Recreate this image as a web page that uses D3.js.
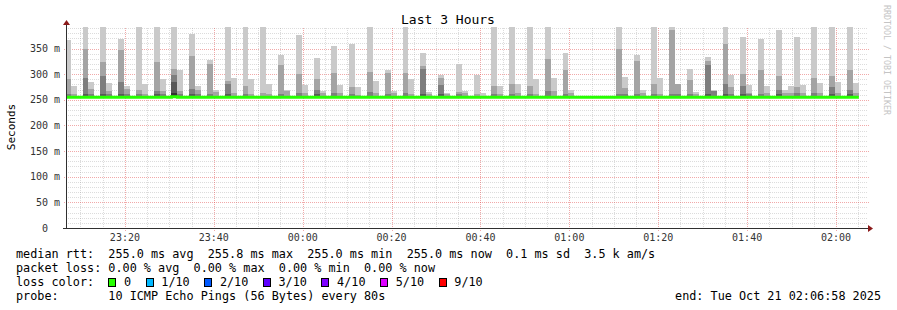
<!DOCTYPE html>
<html>
<head>
<meta charset="utf-8">
<script src="https://cdn.jsdelivr.net/npm/d3@7"></script>
<style>
body { margin: 0; background: #fff; }
svg { display: block; }
text { font-family: "DejaVu Sans Mono", monospace; white-space: pre; }
</style>
</head>
<body>
<div id="chart"></div>
<script>
// time window of the graph, one slot every 80s
var startTime = new Date(2025, 9, 20, 23, 6, 58);
var endTime = new Date(2025, 9, 21, 2, 6, 58);
var firstSlot = new Date(2025, 9, 20, 23, 6, 28);
var stepSec = 80;

// median rtt per slot (ms)
var median = [
  255,255,255,255,255,255,255,255,255,255,
  255,255,255,255,255,255,255,255,255.8,255,
  255,255,255,255,255,255,255,255,255,255,
  255,255,255,255,255,255,255,255,255,255,
  255,255,255,255,255,255,255,255,255,255,
  255,255,255,255,255,255,255,255,255,255,
  255,255,255,255,255,255,255,255,255,255,
  255,255,255,255,255,255,255,255,255,255,
  255,255,255,255,255,255,255,255,255,255,
  255,255,255,255,255,255,255,255,255,255,
  255,255,255,255,255,255,255,255,255,255,
  255,255,255,255,255,255,255,255,255,255,
  255,255,255,255,255,255,255,255,255,255,
  255,255,255,255
];

// sorted pings (10 = highest), upper half only; lower half sits at the median
var ping10 = [
  367,277,255,400,284,255,400,282,255,368,
  277,255,400,281,255,400,290,255,400,308,
  255,378,277,255,327,269,255,400,293,255,
  400,290,255,400,280,255,337,270,255,376,
  278,255,331,268,255,354,279,255,359,275,
  255,400,286,255,309,267,255,400,291,255,
  341,265,255,298,264,255,319,268,255,298,
  264,255,400,277,255,400,280,255,400,290,
  255,400,292,255,342,270,255,255,255,255,
  255,255,255,400,294,255,337,270,255,400,
  292,255,392,281,255,311,265,255,333,270,
  255,400,298,255,372,278,255,369,277,255,
  387,270,277,373,278,255,400,282,255,400,
  285,255,400,283
];
var ping9 = [
  290,261,255,350,271,255,323,268,255,348,
  272,255,270,262,255,323,267,255,311,268,
  255,335,270,255,320,266,255,287,263,255,
  277,262,255,264,262,255,318,267,255,300,
  263,255,290,263,255,303,263,255,275,260,
  255,304,264,255,303,264,255,302,262,255,
  316,262,255,292,262,255,265,263,255,262,
  255,255,277,262,255,280,264,255,277,261,
  255,329,268,255,309,264,255,255,255,255,
  255,255,255,350,273,255,325,264,255,280,
  262,255,386,280,255,288,262,255,325,268,
  255,358,274,255,301,264,255,308,264,255,
  296,263,263,275,263,255,292,263,255,296,
  263,255,308,264
];
var ping8 = [
  262,255,255,292,261,255,296,262,255,284,
  261,255,262,255,255,268,261,255,298,262,
  255,272,262,255,262,255,255,281,255,255,
  262,255,255,255,255,255,262,255,255,263,
  255,255,270,255,255,263,255,255,262,255,
  255,265,255,255,262,255,255,263,255,255,
  310,255,255,279,255,255,262,255,255,255,
  255,255,262,255,255,262,255,255,262,255,
  255,268,255,255,262,255,255,255,255,255,
  255,255,255,262,262,255,262,255,255,262,
  255,255,262,262,255,262,255,255,317,267,
  255,280,262,255,277,262,255,262,255,255,
  269,255,255,263,255,255,263,255,255,275,
  255,255,269,255
];
var ping7 = [
  257,255,255,262,255,255,262,255,255,262,
  255,255,255,255,255,261,255,255,284,255,
  255,262,255,255,255,255,255,262,255,255,
  255,255,255,255,255,255,255,255,255,255,
  255,255,261,255,255,255,255,255,255,255,
  255,255,255,255,255,255,255,255,255,255,
  262,255,255,262,255,255,255,255,255,255,
  255,255,255,255,255,255,255,255,255,255,
  255,255,255,255,255,255,255,255,255,255,
  255,255,255,255,255,255,255,255,255,255,
  255,255,255,255,255,255,255,255,262,255,
  255,262,255,255,262,255,255,255,255,255,
  262,255,255,255,255,255,255,255,255,262,
  255,255,262,255
];
var ping6 = [
  255,255,255,255,255,255,255,255,255,255,
  255,255,255,255,255,255,255,255,264,255,
  255,255,255,255,255,255,255,255,255,255,
  255,255,255,255,255,255,255,255,255,255,
  255,255,255,255,255,255,255,255,255,255,
  255,255,255,255,255,255,255,255,255,255,
  255,255,255,255,255,255,255,255,255,255,
  255,255,255,255,255,255,255,255,255,255,
  255,255,255,255,255,255,255,255,255,255,
  255,255,255,255,255,255,255,255,255,255,
  255,255,255,255,255,255,255,255,255,255,
  255,255,255,255,255,255,255,255,255,255,
  255,255,255,255,255,255,255,255,255,255,
  255,255,255,255
];

var yTicks = [0, 50, 100, 150, 200, 250, 300, 350];
var yTickLabels = ["0  ", "50 m", "100 m", "150 m", "200 m", "250 m", "300 m", "350 m"];
var lossLabels = ["0", "1/10", "2/10", "3/10", "4/10", "5/10", "9/10"];
var lossColors = ["#26ff00", "#00b8ff", "#0059ff", "#5e00ff", "#7e00ff", "#dd00ff", "#ff0000"];
var legendRows = [
  "median rtt:  255.0 ms avg  255.8 ms max  255.0 ms min  255.0 ms now  0.1 ms sd  3.5 k am/s",
  "packet loss: 0.00 % avg  0.00 % max  0.00 % min  0.00 % now",
  "loss color:",
  "probe:       10 ICMP Echo Pings (56 Bytes) every 80s"
];
var endLabel = "end: Tue Oct 21 02:06:58 2025";

// GLOBAL CONFIGS
var w = 897;
var h = 310;
var pLeft = 67, pRight = 867, pTop = 28, pBottom = 228;
var charW = 7.1;
var minorGrid = "rgba(140,140,140,0.3)";
var majorGrid = "rgba(220,40,40,0.4)";
var axisColor = "#303030";
var arrowColor = "#8b1a1a";

var x = d3.scaleTime().domain([startTime, endTime]).range([pLeft, pRight]);
var y = d3.scaleLinear().domain([0, 390]).range([pBottom, pTop]);

function slotX(k) {
  return x(new Date(firstSlot.getTime() + k * stepSec * 1000));
}

var svg = d3.select("#chart")
  .append("svg")
  .attr("width", w)
  .attr("height", h);

svg.append("rect").attr("width", w).attr("height", h).attr("fill", "#fff");

svg.append("clipPath").attr("id", "plot")
  .append("rect")
  .attr("x", pLeft).attr("y", pTop - 1)
  .attr("width", pRight - pLeft).attr("height", pBottom - pTop + 1);

// Grid
var grid = svg.append("g").attr("stroke-dasharray", "1,1").attr("shape-rendering", "crispEdges");
var hMinor = d3.range(0, 391, 10).filter(function(v) { return v % 50 != 0; });
grid.selectAll(".hmin")
  .data(hMinor).enter().append("line")
  .attr("x1", pLeft - 1).attr("x2", pRight + 1)
  .attr("y1", function(v) { return Math.round(y(v)) + 0.5; })
  .attr("y2", function(v) { return Math.round(y(v)) + 0.5; })
  .attr("stroke", minorGrid);
var vMinor = x.ticks(d3.timeMinute.every(5)).filter(function(t) { return t.getMinutes() % 20 != 0; });
grid.selectAll(".vmin")
  .data(vMinor).enter().append("line")
  .attr("x1", function(t) { return Math.round(x(t)) + 0.5; })
  .attr("x2", function(t) { return Math.round(x(t)) + 0.5; })
  .attr("y1", pTop).attr("y2", pBottom + 2)
  .attr("stroke", minorGrid);
grid.selectAll(".hmaj")
  .data(yTicks.slice(1)).enter().append("line")
  .attr("x1", pLeft - 3).attr("x2", pRight + 2)
  .attr("y1", function(v) { return Math.round(y(v)) + 0.5; })
  .attr("y2", function(v) { return Math.round(y(v)) + 0.5; })
  .attr("stroke", majorGrid);
var vMajor = x.ticks(d3.timeMinute.every(20));
grid.selectAll(".vmaj")
  .data(vMajor).enter().append("line")
  .attr("x1", function(t) { return Math.round(x(t)) + 0.5; })
  .attr("x2", function(t) { return Math.round(x(t)) + 0.5; })
  .attr("y1", pTop).attr("y2", pBottom + 3)
  .attr("stroke", majorGrid);

// Draw smoke layers, outer (light) to inner (dark)
var layers = [
  { vals: ping10, color: "#cacaca" },
  { vals: ping9, color: "#a4a4a4" },
  { vals: ping8, color: "#7e7e7e" },
  { vals: ping7, color: "#585858" },
  { vals: ping6, color: "#323232" }
];
var smoke = svg.append("g").attr("clip-path", "url(#plot)");
layers.forEach(function(l) {
  var slots = d3.range(median.length).filter(function(k) {
    return l.vals[k] > median[k];
  });
  smoke.append("g")
    .selectAll("rect")
    .data(slots)
    .enter()
    .append("rect")
    .attr("x", function(k) { return slotX(k); })
    .attr("width", function(k) { return slotX(k + 1) - slotX(k); })
    .attr("y", function(k) { return y(l.vals[k]); })
    .attr("height", function(k) { return y(median[k]) - y(l.vals[k]); })
    .attr("fill", l.color)
    .attr("shape-rendering", "crispEdges");
});

// Median line, loss colour 0
var medPts = median.map(function(v, k) { return [slotX(k), y(v)]; });
medPts.push([slotX(median.length), y(median[median.length - 1])]);
smoke.append("path")
  .attr("d", d3.line().curve(d3.curveStepAfter)(medPts))
  .attr("fill", "none")
  .attr("stroke", lossColors[0])
  .attr("stroke-width", 3);

// Axes
svg.append("line")
  .attr("x1", pLeft - 0.5).attr("x2", pLeft - 0.5)
  .attr("y1", pBottom + 0.5).attr("y2", pTop - 4)
  .attr("stroke", axisColor);
svg.append("line")
  .attr("x1", pLeft - 4).attr("x2", pRight + 2)
  .attr("y1", pBottom + 0.5).attr("y2", pBottom + 0.5)
  .attr("stroke", axisColor);
svg.append("path")
  .attr("d", "M" + (pLeft - 4) + "," + (pTop - 3) + " L" + (pLeft - 0.5) + "," + (pTop - 8) + " L" + (pLeft + 3) + "," + (pTop - 3) + " Z")
  .attr("fill", arrowColor);
svg.append("path")
  .attr("d", "M" + (pRight + 1) + "," + (pBottom - 3) + " L" + (pRight + 6) + "," + (pBottom + 0.5) + " L" + (pRight + 1) + "," + (pBottom + 4) + " Z")
  .attr("fill", arrowColor);

// Tick labels
svg.selectAll(".ylab")
  .data(yTicks).enter().append("text")
  .text(function(d, i) { return yTickLabels[i]; })
  .attr("x", 60)
  .attr("y", function(v) { return y(v) + 3.5; })
  .attr("text-anchor", "end")
  .attr("font-size", 10)
  .attr("fill", "#333");
svg.selectAll(".xlab")
  .data(vMajor).enter().append("text")
  .text(d3.timeFormat("%H:%M"))
  .attr("x", function(t) { return x(t); })
  .attr("y", 241)
  .attr("text-anchor", "middle")
  .attr("font-size", 10)
  .attr("fill", "#333");

// Title, unit, watermark
svg.append("text")
  .text("Last 3 Hours")
  .attr("x", 448).attr("y", 24)
  .attr("text-anchor", "middle")
  .attr("font-size", 13);
svg.append("text")
  .text("Seconds")
  .attr("transform", "translate(15,127) rotate(-90)")
  .attr("text-anchor", "middle")
  .attr("font-size", 11);
svg.append("text")
  .text("RRDTOOL / TOBI OETIKER")
  .attr("transform", "translate(884,60) rotate(90)")
  .attr("text-anchor", "middle")
  .attr("font-size", 8.3)
  .attr("fill", "#c4c4c4");

// Legend
var rowY = [258, 272, 286, 299.5];
svg.selectAll(".leg")
  .data(legendRows).enter().append("text")
  .text(function(d) { return d; })
  .attr("x", 16)
  .attr("y", function(d, i) { return rowY[i]; })
  .attr("font-size", 11.8);
var cx = 16 + 13 * charW;
lossLabels.forEach(function(lab, i) {
  svg.append("rect")
    .attr("x", Math.round(cx) + 0.5).attr("y", 278.5)
    .attr("width", 7).attr("height", 8)
    .attr("fill", lossColors[i])
    .attr("stroke", "#000");
  svg.append("text")
    .text(lab)
    .attr("x", cx + 15.7).attr("y", rowY[2])
    .attr("font-size", 11.8);
  cx += 15.7 + lab.length * charW + 14.5;
});
svg.append("text")
  .text(endLabel)
  .attr("x", 881).attr("y", rowY[3])
  .attr("text-anchor", "end")
  .attr("font-size", 11.8);
</script>
</body>
</html>
